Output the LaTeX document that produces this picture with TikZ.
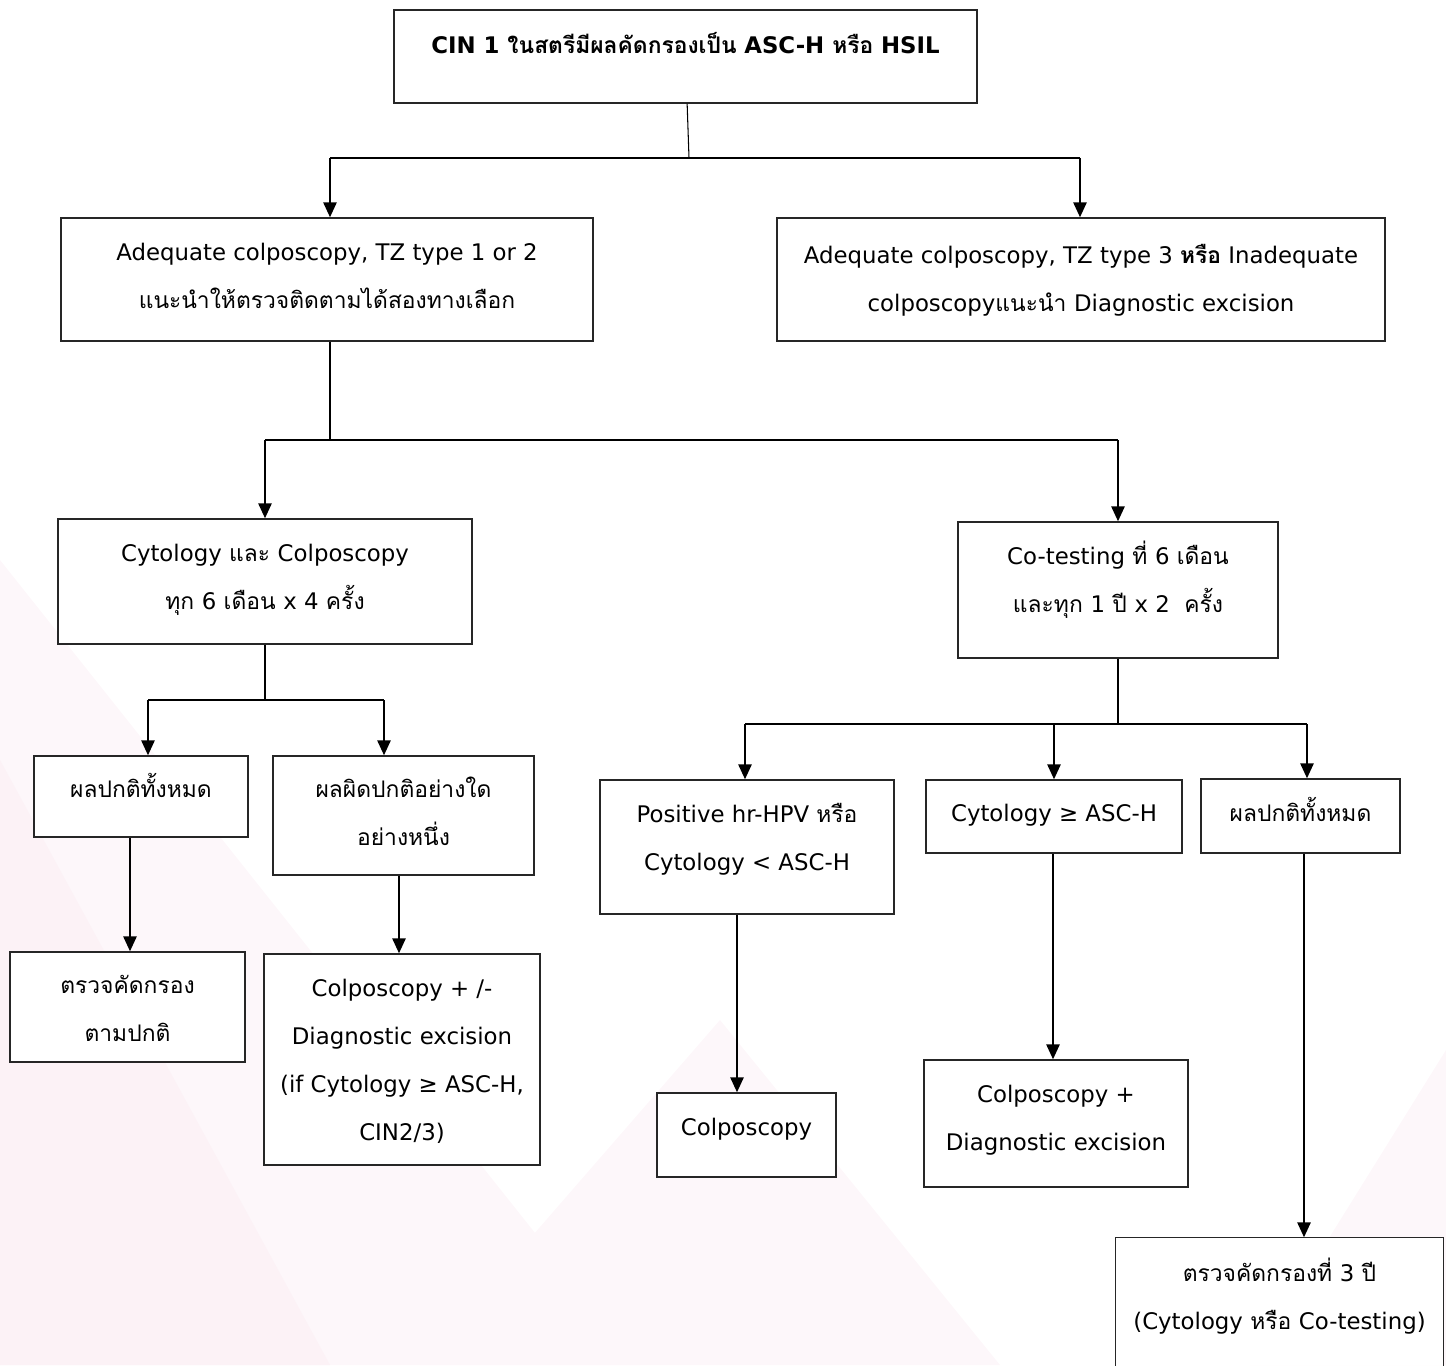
\documentclass[tikz,border=0pt]{standalone}
\usepackage{fontspec}
\setmainfont[Script=Thai]{Loma}
\newfontfamily\thaifam[Script=Thai]{Loma}
\newfontfamily\latinfam{DejaVu Sans}
\usetikzlibrary{fit,arrows.meta}
\definecolor{bgpink}{HTML}{FCF2F6}
\definecolor{bgpinklight}{HTML}{FDF7FA}

% Thai letters in Loma, everything else in DejaVu Sans
\XeTeXinterchartokenstate=1
\newXeTeXintercharclass\ThaiCls
\count255="0E00
\loop
  \XeTeXcharclass\count255=\ThaiCls
  \ifnum\count255<"0E7F \advance\count255 by 1 \repeat
\XeTeXinterchartoks 0 \ThaiCls = {\thaifam}
\XeTeXinterchartoks 4095 \ThaiCls = {\thaifam}
\XeTeXinterchartoks \ThaiCls 0 = {\latinfam}
\XeTeXinterchartoks 4095 0 = {\latinfam}

% centred lines, raised by the optional amount
\newcommand{\boxtext}[2][0pt]{\raisebox{\dimexpr#1-1.4pt\relax}[0pt][0pt]{\begin{tabular}{@{}c@{}}#2\end{tabular}}}

\tikzset{
  box/.style={draw=black!85, fill=white, line width=0.8pt, inner sep=0pt,
    font=\fontsize{13}{27.4}\selectfont},
  frame/.style={draw=black!85, line width=0.8pt},
  stem/.style={line width=0.6pt},
  link/.style={line width=1pt},
  arr/.style={line width=1.2pt, -{Triangle[width=7.5pt,length=8.5pt]}},
}

\begin{document}
\begin{tikzpicture}[x=0.02cm, y=-0.02cm]
\useasboundingbox (0,0) rectangle (1446,1365);

% faint background facets
\fill[bgpinklight] (0,560) -- (640,1365) -- (0,1365) -- cycle;
\fill[bgpink] (0,760) -- (330,1365) -- (0,1365) -- cycle;
\fill[bgpinklight] (420,1365) -- (720,1020) -- (1000,1365) -- cycle;
\fill[bgpinklight] (1446,1050) -- (1446,1365) -- (1250,1365) -- cycle;

% top
\node[box, fit={(394,10) (977,103)}] (top) {\boxtext[5.4pt]{\bfseries CIN 1 ในสตรีมีผลคัดกรองเป็น ASC-H หรือ HSIL}};

% first split
\node[box, fit={(61,218) (593,341)}] (adeq) {\boxtext[0.85pt]{Adequate colposcopy, TZ type 1 or 2\\แนะนำให้ตรวจติดตามได้สองทางเลือก}};
\node[box, fit={(777,218) (1385,341)}] (inadeq) {\boxtext[-0.85pt]{Adequate colposcopy, TZ type 3 {\bfseries หรือ} Inadequate\\colposcopyแนะนำ Diagnostic excision}};

% two follow-up options
\node[box, fit={(58,519) (472,644)}] (cyto) {\boxtext[1.7pt]{Cytology และ Colposcopy\\ทุก 6 เดือน x 4 ครั้ง}};
\node[box, fit={(958,522) (1278,658)}] (cotest) {\boxtext[4.5pt]{Co-testing ที่ 6 เดือน\\และทุก 1 ปี x 2~ ครั้ง}};

% left branch
\node[box, fit={(34,756) (248,837)}] (normL) {\boxtext[3.1pt]{ผลปกติทั้งหมด}};
\node[box, fit={(273,756) (534,875)}] (abnL) {\boxtext[0.3pt]{ผลผิดปกติอย่างใด\\อย่างหนึ่ง}};
\node[box, fit={(10,952) (245,1062)}] (routine) {\boxtext[-2.3pt]{ตรวจคัดกรอง\\ตามปกติ}};
\node[box, fit={(264,954) (540,1165)}] (colpoL) {\boxtext[-1.1pt]{Colposcopy + /-\\Diagnostic excision\\(if Cytology ≥ ASC-H,\\CIN2/3)}};

% right branch
\node[box, fit={(600,780) (894,914)}] (hpv) {\boxtext[4.25pt]{Positive hr-HPV หรือ\\Cytology < ASC-H}};
\node[box, fit={(926,780) (1182,853)}] (asch) {\boxtext[0.85pt]{Cytology ≥ ASC-H}};
\node[box, fit={(1201,779) (1400,853)}] (normR) {\boxtext[0.6pt]{ผลปกติทั้งหมด}};
\node[box, fit={(657,1093) (836,1177)}] (colpo) {\boxtext[3.4pt]{Colposcopy}};
\node[box, fit={(924,1060) (1188,1187)}] (excis) {\boxtext[2pt]{Colposcopy +\\Diagnostic excision}};
\fill[white] (1116,1238) rectangle (1443,1365);
\node[box, draw=none, fill=none, fit={(1116,1238) (1443,1354)}] (three) {\boxtext[-1.4pt]{ตรวจคัดกรองที่ 3 ปี\\(Cytology หรือ Co-testing)}};
\draw[frame] ([yshift=-1cm]three.south west) -- (three.north west) -- (three.north east) -- ([yshift=-1cm]three.south east);

% junctions
\coordinate (j1) at (689,158);
\coordinate (j2) at (330,440);
\coordinate (j3) at (265,700);
\coordinate (j4) at (1118,724);

% connectors
\draw[stem] (top) -- (j1);
\draw[link] (330,0 |- j1) -- (1080,0 |- j1);
\draw[arr] (330,0 |- j1) -- (330,0 |- adeq.north);
\draw[arr] (1080,0 |- j1) -- (1080,0 |- inadeq.north);

\draw[stem] (adeq.south -| j2) -- (j2);
\draw[link] (265,0 |- j2) -- (1118,0 |- j2);
\draw[arr] (265,0 |- j2) -- (cyto.north);
\draw[arr] (1118,0 |- j2) -- (cotest.north);

\draw[stem] (cyto) -- (j3);
\draw[link] (148,0 |- j3) -- (384,0 |- j3);
\draw[arr] (148,0 |- j3) -- (148,0 |- normL.north);
\draw[arr] (384,0 |- j3) -- (384,0 |- abnL.north);
\draw[arr] (130,0 |- normL.south) -- (130,0 |- routine.north);
\draw[arr] (399,0 |- abnL.south) -- (399,0 |- colpoL.north);

\draw[stem] (cotest) -- (j4);
\draw[link] (745,0 |- j4) -- (1307,0 |- j4);
\draw[arr] (745,0 |- j4) -- (745,0 |- hpv.north);
\draw[arr] (1054,0 |- j4) -- (1054,0 |- asch.north);
\draw[arr] (1307,0 |- j4) -- (1307,0 |- normR.north);
\draw[arr] (737,0 |- hpv.south) -- (737,0 |- colpo.north);
\draw[arr] (1053,0 |- asch.south) -- (1053,0 |- excis.north);
\draw[arr] (1304,0 |- normR.south) -- (1304,0 |- three.north);

\end{tikzpicture}
\end{document}
